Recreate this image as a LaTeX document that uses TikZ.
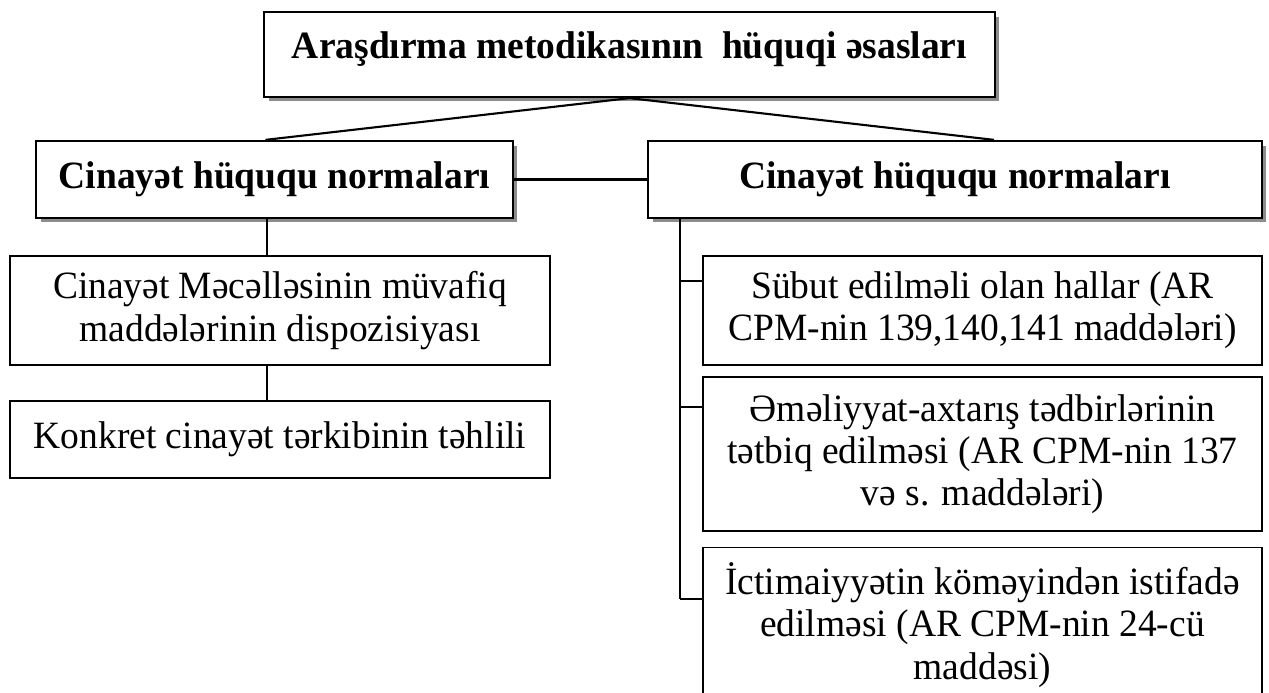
\documentclass[tikz,border=0pt]{standalone}
\usepackage{fontspec}
\setmainfont{Liberation Serif}[FakeStretch=0.97]
\usetikzlibrary{shadows,calc}

\begin{document}
\begin{tikzpicture}[x=0.02cm,y=-0.02cm,
  every node/.style={font=\fontsize{22}{24}\selectfont},
  headbox/.style={draw,line width=1.3pt,fill=white,inner sep=0pt,align=center,
    font=\fontsize{22}{24}\selectfont\bfseries,
    drop shadow={shadow xshift=0.09cm,shadow yshift=-0.09cm,fill=black!45,opacity=1}},
  itembox/.style={draw,line width=0.9pt,fill=white,inner sep=0pt,align=center,minimum width=10.8cm},
  link/.style={line width=1.2pt}]
  \useasboundingbox (0,0) rectangle (1269,693);
  \node[headbox,minimum width=14.62cm,text height=0.94cm,text depth=0.76cm] (top) at (629.5,54.5) {Araşdırma metodikasının\ \ hüquqi əsasları};
  \node[headbox,minimum width=9.54cm,minimum height=1.54cm] (crimL) at (274.5,179.5) {Cinayət hüququ normaları};
  \node[headbox,minimum width=12.28cm,minimum height=1.54cm] (crimR) at (955,179.5) {Cinayət hüququ normaları};
  \node[itembox,minimum height=2.18cm] (disp) at (280,310.5) {Cinayət Məcəlləsinin müvafiq\\maddələrinin dispozisiyası};
  \node[itembox,minimum height=1.54cm] (anal) at (280,439.5) {Konkret cinayət tərkibinin təhlili};
  \node[itembox,minimum width=11.18cm,minimum height=2.18cm] (proof) at (982.5,310.5) {Sübut edilməli olan hallar (AR\\CPM-nin 139,140,141 maddələri)};
  \node[itembox,minimum width=11.18cm,minimum height=3.08cm] (oper) at (982.5,454) {Əməliyyat-axtarış tədbirlərinin\\tətbiq edilməsi (AR CPM-nin 137\\və s. maddələri)};
  \node[itembox,minimum width=11.18cm,minimum height=3.1cm] (civic) at (982.5,625) {İctimaiyyətin köməyindən istifadə\\edilməsi (AR CPM-nin 24-cü\\maddəsi)};
  \coordinate (lk) at (267,0);
  \coordinate (brP) at (680,281);
  \coordinate (brO) at (680,407);
  \coordinate (brC) at (680,599);
  \draw[link] (top.south) -- ($(crimL.north)+(-9,0)$);
  \draw[link] (top.south) -- ($(crimR.north)+(39,0)$);
  \draw[link] (crimL.east) -- (crimR.west);
  \draw[link] (crimL.south -| lk) -- (disp.north -| lk);
  \draw[link] (disp.south -| lk) -- (anal.north -| lk);
  \draw[link] (crimR.south -| brC) -- (brC);
  \foreach \b/\c in {proof/brP,oper/brO,civic/brC}
    \draw[link] (\c) -- (\c -| \b.west);
\end{tikzpicture}
\end{document}
